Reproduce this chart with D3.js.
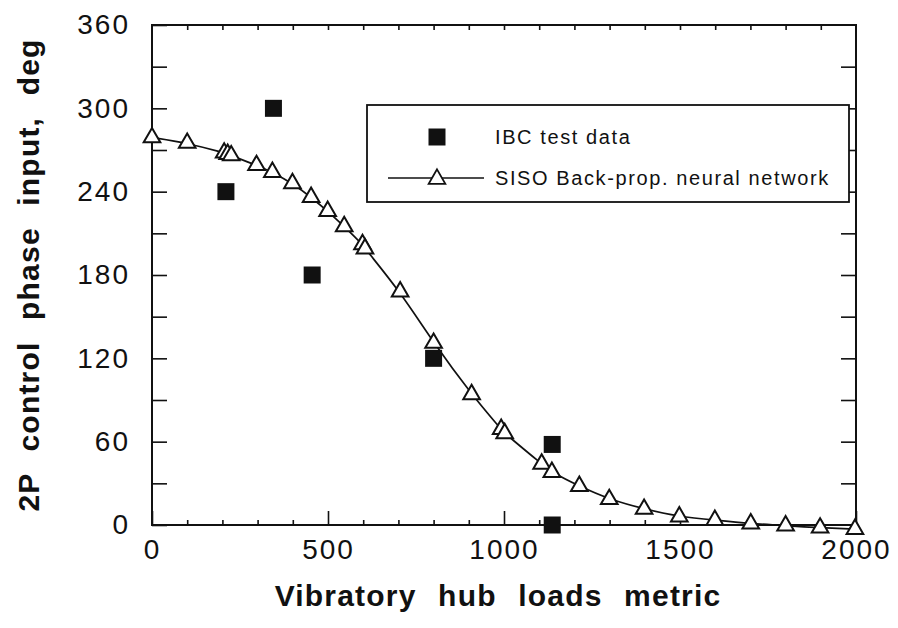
<!DOCTYPE html>
<html>
<head>
<meta charset="utf-8">
<script src="https://cdn.jsdelivr.net/npm/d3@7"></script>
<style>
  body { margin: 0; background: #fff; }
  text { font-family: "Liberation Sans", Arial, sans-serif; fill: #111; }
</style>
</head>
<body>
<script>
const w = 898
const h = 628

// IBC test data (filled squares)
const ibcX = [210, 345, 455, 800, 1137, 1137]
const ibcY = [240, 300, 180, 120, 58, 0]

// SISO back-prop neural network output (open triangles + line)
const nnX = [0, 100, 205, 215, 225, 297, 342, 399, 452, 499, 546, 598, 605, 705,
             800, 908, 992, 1002, 1107, 1136, 1214, 1299, 1398, 1498, 1599, 1701, 1800, 1898, 1997]
const nnY = [279, 275, 268, 267, 266, 259, 254, 246, 236, 226, 215, 202, 199, 168,
             131, 94, 69, 66, 44, 38, 28, 18.5, 11.5, 6, 3.5, 1, -0.5, -2, -3]

const xTicks = [0, 500, 1000, 1500, 2000]
const yTicks = [0, 60, 120, 180, 240, 300, 360]

const x = d3.scaleLinear().domain([0, 2000]).range([152, 856])
const y = d3.scaleLinear().domain([0, 360]).range([525, 25])

const svg = d3.select("body").append("svg")
  .attr("width", w).attr("height", h)

// frame
svg.append("rect")
  .attr("x", x(0)).attr("y", y(360))
  .attr("width", x(2000) - x(0)).attr("height", y(0) - y(360))
  .attr("fill", "none").attr("stroke", "#111").attr("stroke-width", 2)

const tickStyle = g => {
  g.select(".domain").remove()
  g.selectAll(".tick line").attr("stroke", "#111").attr("stroke-width", 1.6)
  g.selectAll(".tick text").attr("font-size", 28).attr("letter-spacing", 2).attr("fill", "#111")
}

// left axis: ticks every 30, labels every 60
svg.append("g").attr("transform", `translate(${x(0)},0)`)
  .call(d3.axisLeft(y).tickValues(d3.range(0, 361, 30)).tickSize(-15)
    .tickPadding(22).tickFormat(d => yTicks.includes(d) ? d : ""))
  .call(tickStyle)

// right axis: inward ticks
svg.append("g").attr("transform", `translate(${x(2000)},0)`)
  .call(d3.axisRight(y).tickValues(d3.range(30, 360, 30)).tickSize(-15).tickFormat(""))
  .call(tickStyle)

// bottom axis: minor every 100, major every 500
svg.append("g").attr("transform", `translate(0,${y(0)})`)
  .call(d3.axisBottom(x).tickValues(d3.range(100, 2000, 100).filter(d => d % 500)).tickSize(-5).tickFormat(""))
  .call(tickStyle)
svg.append("g").attr("transform", `translate(0,${y(0)})`)
  .call(d3.axisBottom(x).tickValues(xTicks).tickSize(-14).tickPadding(14).tickFormat(d3.format("d")))
  .call(tickStyle)

// top axis: minor inward ticks
svg.append("g").attr("transform", `translate(0,${y(360)})`)
  .call(d3.axisTop(x).tickValues(d3.range(100, 2000, 100)).tickSize(-5).tickFormat(""))
  .call(tickStyle)

// axis titles
svg.append("text")
  .attr("x", 498).attr("y", 606)
  .attr("text-anchor", "middle")
  .attr("font-size", 30).attr("font-weight", "bold")
  .attr("letter-spacing", 1.2).attr("word-spacing", 12)
  .text("Vibratory hub loads metric")

svg.append("text")
  .attr("transform", "translate(39,275) rotate(-90)")
  .attr("text-anchor", "middle")
  .attr("font-size", 30).attr("font-weight", "bold")
  .attr("letter-spacing", 1.2).attr("word-spacing", 12)
  .text("2P control phase input, deg")

// network line
const nnData = nnX.map((d, i) => ({x: d, y: nnY[i]}))
const lineFun = d3.line()
  .curve(d3.curveBasis)
  .x(d => x(d.x))
  .y(d => y(d.y))

svg.append("path")
  .attr("d", lineFun(nnData))
  .attr("fill", "none")
  .attr("stroke", "#111")
  .attr("stroke-width", 1.7)

// triangles
svg.selectAll(".tri")
  .data(nnData)
  .enter()
  .append("path")
  .attr("class", "tri")
  .attr("d", d3.symbol(d3.symbolTriangle, 120))
  .attr("transform", d => `translate(${x(d.x)},${y(d.y)})`)
  .attr("fill", "#fff")
  .attr("stroke", "#111")
  .attr("stroke-width", 2)

// IBC squares
svg.selectAll(".sq")
  .data(ibcX.map((d, i) => ({x: d, y: ibcY[i]})))
  .enter()
  .append("path")
  .attr("class", "sq")
  .attr("d", d3.symbol(d3.symbolSquare, 289))
  .attr("transform", d => `translate(${x(d.x)},${y(d.y)})`)
  .attr("fill", "#111")

// legend
const lg = svg.append("g")
lg.append("rect")
  .attr("x", 367).attr("y", 105).attr("width", 482).attr("height", 97)
  .attr("fill", "#fff").attr("stroke", "#111").attr("stroke-width", 1.8)
lg.append("path")
  .attr("d", d3.symbol(d3.symbolSquare, 289))
  .attr("transform", "translate(437,137)")
  .attr("fill", "#111")
lg.append("line")
  .attr("x1", 388).attr("x2", 484).attr("y1", 178).attr("y2", 178)
  .attr("stroke", "#111").attr("stroke-width", 1.4)
lg.append("path")
  .attr("d", d3.symbol(d3.symbolTriangle, 120))
  .attr("transform", "translate(437,179)")
  .attr("fill", "#fff").attr("stroke", "#111").attr("stroke-width", 1.8)
lg.append("text").attr("x", 495).attr("y", 144).attr("font-size", 20).attr("letter-spacing", 1.6).text("IBC test data")
lg.append("text").attr("x", 495).attr("y", 185).attr("font-size", 20).attr("letter-spacing", 1.6).text("SISO Back-prop. neural network")
</script>
</body>
</html>
